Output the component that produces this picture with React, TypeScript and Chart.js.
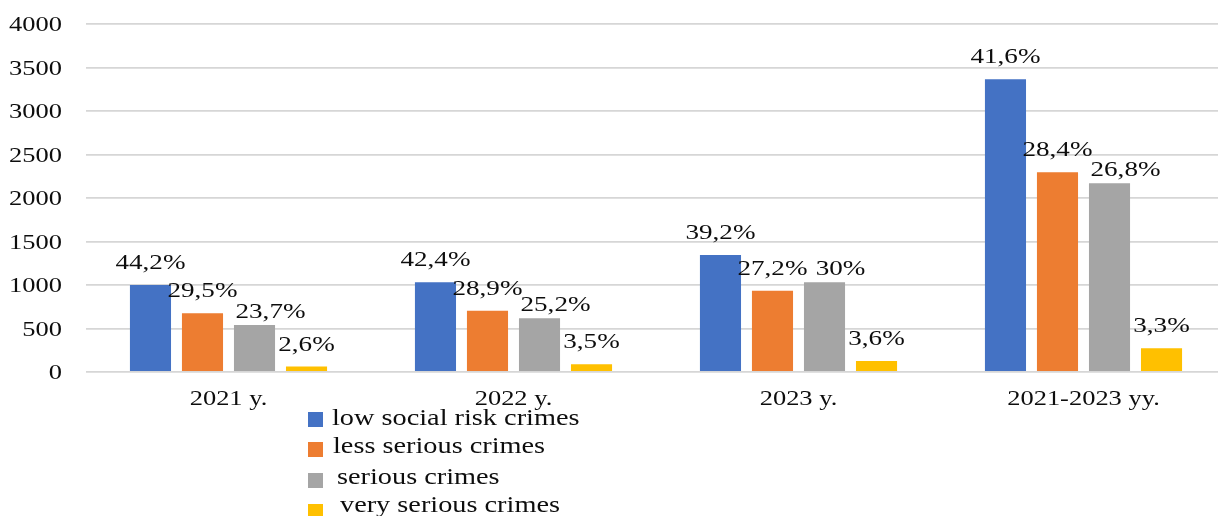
import React, { useEffect, useRef } from "react";
import { Chart, registerables } from "chart.js";

Chart.register(...registerables);

const categories = ["2021 y.", "2022 y.", "2023 y.", "2021-2023 yy."];
const seriesNames = [
  "low social risk crimes",
  "less serious crimes",
  "serious crimes",
  "very serious crimes",
];
const lowRisk = [1000, 1031, 1345, 3364];
const lessSerious = [675, 705, 934, 2295];
const serious = [540, 617, 1031, 2169];
const verySerious = [62, 88, 126, 272];

const lowRiskPct = ["44,2%", "42,4%", "39,2%", "41,6%"];
const lessSeriousPct = ["29,5%", "28,9%", "27,2%", "28,4%"];
const seriousPct = ["23,7%", "25,2%", "30%", "26,8%"];
const verySeriousPct = ["2,6%", "3,5%", "3,6%", "3,3%"];

const colors = ["#4472C4", "#ED7D31", "#A5A5A5", "#FFC000"];
const TEXT = "#0d0d0d";
const SERIF = '"Liberation Serif", "Times New Roman", serif';

function drawText(
  ctx: CanvasRenderingContext2D,
  text: string,
  x: number,
  y: number,
  align: "left" | "center" | "right",
  size: number,
  sx: number
) {
  ctx.save();
  ctx.font = `${size}px ${SERIF}`;
  const w = ctx.measureText(text).width * sx;
  const left = align === "center" ? x - w / 2 : align === "right" ? x - w : x;
  ctx.translate(left, y);
  ctx.scale(sx, 1);
  ctx.textAlign = "left";
  ctx.textBaseline = "alphabetic";
  ctx.fillStyle = TEXT;
  ctx.fillText(text, 0, 0);
  ctx.restore();
  return w;
}

function measure(ctx: CanvasRenderingContext2D, text: string, size: number, sx: number) {
  ctx.save();
  ctx.font = `${size}px ${SERIF}`;
  const w = ctx.measureText(text).width * sx;
  ctx.restore();
  return w;
}

const textPlugin = {
  id: "stretchedText",
  afterDraw(chart: any) {
    const ctx: CanvasRenderingContext2D = chart.ctx;
    const ys = chart.scales.y;
    const xs = chart.scales.x;
    const TS = 21;
    const TSX = 1.26;
    // y tick labels
    ys.ticks.forEach((t: any) => {
      const py = ys.getPixelForValue(t.value);
      drawText(ctx, String(t.value), 62, py + 7, "right", TS, TSX);
    });
    // x category labels
    categories.forEach((c, i) => {
      drawText(ctx, c, xs.getPixelForValue(i), 405, "center", TS, TSX);
    });
    // data labels (outside end, nudged when they would collide)
    const pcts = [lowRiskPct, lessSeriousPct, seriousPct, verySeriousPct];
    categories.forEach((_, j) => {
      const boxes: { l: number; r: number; t: number; b: number }[] = [];
      chart.data.datasets.forEach((_ds: any, i: number) => {
        const el = chart.getDatasetMeta(i).data[j];
        const text = pcts[i][j];
        const w = measure(ctx, text, TS, 1.29);
        let base = el.y - 16;
        let left = el.x - w / 2;
        const hit = boxes.some(
          (b) => left < b.r && left + w > b.l && base - 15 < b.b && base > b.t
        );
        if (hit) {
          base = el.y - 7;
          left += 16;
        }
        boxes.push({ l: left, r: left + w, t: base - 15, b: base });
        drawText(ctx, text, left, base, "left", TS, 1.29);
      });
    });
    // legend
    const sqTop = [412, 442, 473, 504];
    const txtX = [332, 333, 337, 340];
    const txtBase = [425, 453, 484, 512];
    chart.data.datasets.forEach((ds: any, i: number) => {
      ctx.save();
      ctx.fillStyle = ds.backgroundColor;
      ctx.fillRect(308, sqTop[i], 15, 15);
      ctx.restore();
      drawText(ctx, ds.label, txtX[i], txtBase[i], "left", 23, 1.23);
    });
  },
};

export default function App() {
  const ref = useRef<HTMLCanvasElement | null>(null);
  useEffect(() => {
    document.body.style.margin = "0";
    const canvas = ref.current;
    if (!canvas) return;
    const seriesData = [lowRisk, lessSerious, serious, verySerious];
    const chart = new Chart(canvas, {
      type: "bar",
      data: {
        labels: categories,
        datasets: seriesNames.map((name, i) => ({
          label: name,
          data: seriesData[i],
          backgroundColor: colors[i],
          borderWidth: 0,
          categoryPercentage: 0.73,
          barPercentage: 0.79,
        })),
      },
      options: {
        animation: false,
        responsive: false,
        devicePixelRatio: 1,
        layout: { padding: { left: 86, right: 4, top: 24, bottom: 144 } },
        plugins: {
          legend: { display: false },
          tooltip: { enabled: false },
          title: { display: false },
        },
        scales: {
          x: {
            grid: { display: false, drawTicks: false },
            border: { display: false },
            ticks: { display: false },
          },
          y: {
            min: 0,
            max: 4000,
            ticks: { display: false, stepSize: 500 },
            grid: { color: "#d6d6d6", lineWidth: 1.8, drawTicks: false },
            border: { display: false },
          },
        },
      },
      plugins: [textPlugin],
    });
    return () => chart.destroy();
  }, []);
  return (
    <div style={{ width: 1218, height: 516, overflow: "hidden", background: "#fff" }}>
      <canvas ref={ref} width={1230} height={516} style={{ display: "block" }} />
    </div>
  );
}
